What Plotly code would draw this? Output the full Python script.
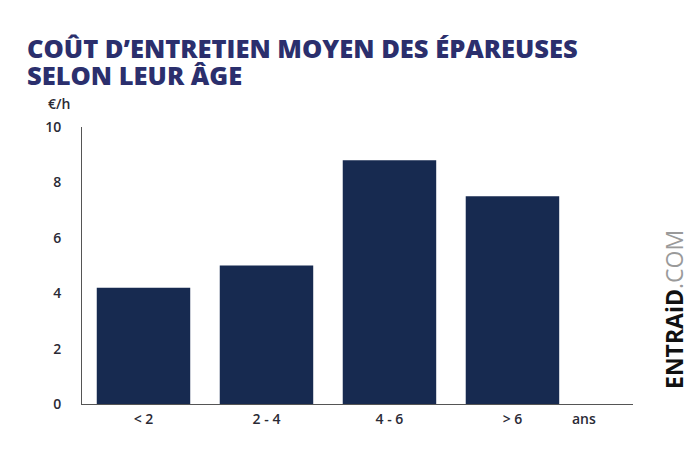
import plotly.graph_objects as go

categories = ["< 2", "2 - 4", "4 - 6", "> 6"]
values = [4.2, 5.0, 8.8, 7.5]
y_ticks = [0, 2, 4, 6, 8, 10]

navy = "#172a50"
title_color = "#2b2f6d"
text_color = "#2a2a35"

# plot area in page pixels: x 82..633, y 127..404 (page body has an 8px margin)
PX0, PX1, PY0, PY1 = 82, 633, 127, 404
W, H = PX1 - PX0, PY1 - PY0


def px(x):
    return (x - PX0) / W


def py(y):
    return (PY1 - y) / H


fig = go.Figure()
fig.add_trace(go.Bar(
    x=categories, y=values, marker=dict(color=navy, line=dict(width=0)),
    width=0.76, hoverinfo="skip"
))

fig.update_layout(
    width=700, height=463,
    margin=dict(l=PX0 - 8, r=700 - PX1 + 8, t=PY0 - 8, b=463 - PY1 + 8),
    paper_bgcolor="white", plot_bgcolor="white",
    showlegend=False,
    font=dict(family="Open Sans", color=text_color, size=13),
    xaxis=dict(
        range=[-0.5, 3.98], showgrid=False, zeroline=False,
        showline=True, linecolor="#555555", linewidth=1,
        ticks="", tickfont=dict(size=14, color=text_color, weight=600),
        ticklabelstandoff=2,
    ),
    yaxis=dict(
        range=[0, 10], tickvals=y_ticks, showgrid=False, zeroline=False,
        showline=True, linecolor="#555555", linewidth=1,
        ticks="", tickfont=dict(size=14, color=text_color, weight=600),
        ticklabelstandoff=17,
    ),
)

title_font = dict(family="Open Sans", size=25.5, color=title_color, weight=800)
fig.add_annotation(
    text="COÛT D’ENTRETIEN MOYEN DES ÉPAREUSES",
    xref="paper", yref="paper", x=px(25), y=py(48),
    xanchor="left", yanchor="middle", showarrow=False, font=title_font,
)
fig.add_annotation(
    text="SELON LEUR ÂGE",
    xref="paper", yref="paper", x=px(25), y=py(75),
    xanchor="left", yanchor="middle", showarrow=False, font=title_font,
)
fig.add_annotation(
    text="€/h", xref="paper", yref="paper", x=px(46), y=py(103),
    xanchor="left", yanchor="middle", showarrow=False,
    font=dict(size=14, color=text_color, weight=600),
)
fig.add_annotation(
    text="ans", xref="paper", yref="paper", x=px(584), y=py(418),
    xanchor="center", yanchor="middle", showarrow=False,
    font=dict(size=14, color=text_color, weight=600),
)
fig.add_annotation(
    text="<b>ENTRAiD</b><span style='color:#9a9a9a'>.COM</span>",
    xref="paper", yref="paper", x=px(674), y=py(310),
    xanchor="center", yanchor="middle", textangle=-90, showarrow=False,
    font=dict(family="Open Sans", size=23, color="#111111"),
)

fig.write_html("out.html")
